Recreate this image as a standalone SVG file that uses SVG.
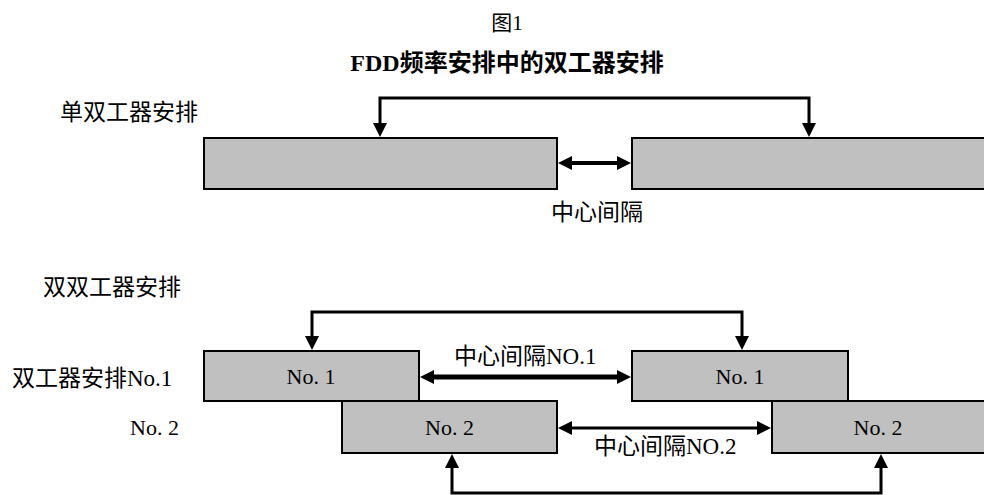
<svg xmlns="http://www.w3.org/2000/svg" width="984" height="495" viewBox="0 0 984 495">
<style>
  text { font-family: "Liberation Serif", "Noto Sans CJK SC", serif; fill: #000; }
  .cjk { font-size: 23px; }
  .lat { font-size: 22px; }
  .title { font-size: 24px; font-weight: bold; }
  .box { fill: #c0c0c0; stroke: #000; stroke-width: 2; }
  .br { fill: none; stroke: #000; stroke-width: 3; marker-start: url(#ah); marker-end: url(#ah); }
  .mid { text-anchor: middle; }
</style>
<defs>
  <marker id="ah" viewBox="0 0 14 14" refX="1" refY="7" markerWidth="14" markerHeight="14" markerUnits="userSpaceOnUse" orient="auto-start-reverse">
    <path d="M0,0 L14,7 L0,14 z" fill="#000"/>
  </marker>
</defs>
<rect width="984" height="495" fill="#fff"/>

<text class="cjk mid" x="507" y="30" style="font-size:21px">图1</text>
<text class="title mid" x="507" y="71">FDD频率安排中的双工器安排</text>
<text class="cjk" x="60" y="120">单双工器安排</text>
<text class="cjk" x="43" y="295">双双工器安排</text>
<text class="cjk" x="12" y="386">双工器安排No.1</text>
<text class="lat" x="130" y="435">No. 2</text>

<g id="single-tx">
  <rect class="box" x="204" y="138" width="353" height="51"/>
</g>
<g id="single-rx">
  <rect class="box" x="632" y="138" width="356" height="51"/>
</g>
<g id="dup1-a">
  <rect class="box" x="204" y="351" width="215" height="50"/>
  <text class="lat mid" x="311" y="384">No. 1</text>
</g>
<g id="dup1-b">
  <rect class="box" x="632" y="351" width="216" height="50"/>
  <text class="lat mid" x="740" y="384">No. 1</text>
</g>
<g id="dup2-a">
  <rect class="box" x="342" y="401" width="215" height="52"/>
  <text class="lat mid" x="449.5" y="435">No. 2</text>
</g>
<g id="dup2-b">
  <rect class="box" x="772" y="401" width="216" height="52"/>
  <text class="lat mid" x="878" y="435">No. 2</text>
</g>

<g id="connectors">
  <path class="br" d="M380,124 V98 H809 V124"/>
  <path class="br" d="M571,163 H618" style="stroke-width:4"/>
  <path class="br" d="M312,337 V312 H742 V337"/>
  <path class="br" d="M433,377 H618" style="stroke-width:5"/>
  <path class="br" d="M571,428 H758"/>
  <path class="br" d="M452,467 V493 H881 V467"/>
</g>

<text class="cjk mid" x="597" y="220">中心间隔</text>
<text class="cjk" x="454" y="364">中心间隔NO.1</text>
<text class="cjk" x="594" y="454">中心间隔NO.2</text>
</svg>
